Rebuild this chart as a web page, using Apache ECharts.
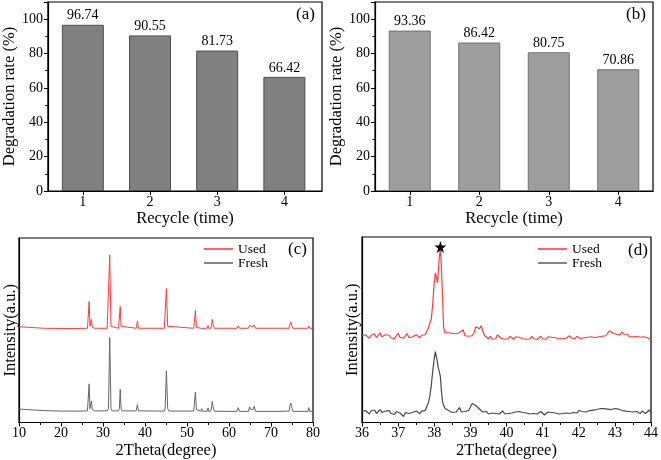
<!DOCTYPE html>
<html><head><meta charset="utf-8">
<script src="https://cdn.jsdelivr.net/npm/echarts@6/dist/echarts.min.js"></script>
<style>html,body{margin:0;padding:0;background:#fff}#c{width:661px;height:460px}</style>
</head><body><div id="c"></div>
<script>
const cycles = [1, 2, 3, 4];
const rateA = [96.74, 90.55, 81.73, 66.42];
const rateB = [93.36, 86.42, 80.75, 70.86];

const cTheta = [
  10, 12, 14, 16, 20, 24, 26.3, 26.5, 26.7, 26.9,
  27.1, 27.25, 27.45, 28, 31.0, 31.3, 31.6, 31.9, 32.2, 33.7,
  33.9, 34.1, 34.3, 34.6, 37.9, 38.2, 38.45, 39.2, 39.35, 39.5,
  44.6, 44.8, 45.1, 45.4, 45.7, 51.6, 51.8, 52.0, 52.25, 52.5,
  53.3, 53.5, 53.7, 54.8, 55.0, 55.2, 55.7, 55.9, 56.0, 56.2,
  56.5, 57.8, 58.0, 58.2, 61.9, 62.2, 62.5, 64.6, 64.9, 65.2,
  65.5, 65.7, 66.0, 66.3, 71.4, 71.6, 71.8, 74.3, 74.5, 74.7,
  74.9, 75.2, 78.8, 79.0, 79.2, 80
];
const cUsed = [
  96.5, 96, 95.5, 95, 94.8, 94.8, 95, 96, 122, 97,
  98, 104, 96, 95, 95, 97, 169, 97, 95, 95,
  97, 117, 97, 95, 95, 102, 95, 95, 96.5, 95,
  95, 97, 135, 97, 95, 95, 97, 113, 96, 95,
  95, 97, 95, 95, 98, 95, 95, 100, 104, 99,
  95, 95, 96, 95, 95, 97.3, 95, 95, 98, 96,
  96.5, 96, 98.3, 95, 95, 96, 95, 95, 99, 101.3,
  98, 95, 95, 97.3, 95, 95
];
const cFresh = [
  13.5, 13, 12.5, 12, 11.5, 11.5, 11.7, 13, 39, 14,
  15, 21.7, 13, 11.7, 11.7, 14, 85.7, 14, 11.7, 11.7,
  14, 33.7, 14, 11.7, 11.7, 18, 11.7, 11.7, 13, 11.5,
  11.5, 14, 52, 14, 11.5, 11.5, 13.5, 30.7, 13, 11.3,
  11.3, 14, 11.3, 11.3, 14.7, 11.3, 11.5, 17, 21.3, 16,
  11.3, 11.3, 13, 11.2, 11.2, 15, 11.2, 11.2, 15.7, 13,
  13.5, 13, 16.3, 11.2, 11.2, 13, 11.2, 11.5, 17, 19.7,
  16, 11.3, 11.2, 15, 11.2, 11.2
];

const dTheta = [
  36.00,36.05,36.10,36.15,36.20,36.25,36.30,36.35,36.40,36.45,
  36.50,36.55,36.60,36.65,36.70,36.75,36.80,36.85,36.90,36.95,
  37.00,37.05,37.10,37.15,37.20,37.25,37.30,37.35,37.40,37.45,
  37.50,37.55,37.60,37.65,37.70,37.75,37.80,
  37.84,37.88,37.92,37.96,38.00,38.03,38.06,38.09,38.11,38.14,
  38.17,38.20,38.23,38.26,38.30,
  38.35,38.40,38.45,38.50,38.55,38.60,38.65,38.70,38.75,38.80,
  38.85,38.90,38.95,39.00,39.05,39.10,39.15,39.20,39.25,39.30,
  39.35,39.40,39.45,39.50,39.55,39.60,39.65,39.70,39.75,39.80,
  39.85,39.90,39.95,40.00,40.05,40.10,40.15,40.20,40.25,40.30,
  40.35,40.40,40.45,40.50,40.55,40.60,40.65,40.70,40.75,40.80,
  40.85,40.90,40.95,41.00,41.05,41.10,41.15,41.20,41.25,41.30,
  41.35,41.40,41.45,41.50,41.55,41.60,41.65,41.70,41.75,41.80,
  41.85,41.90,41.95,42.00,42.05,42.10,42.15,42.20,42.25,42.30,
  42.35,42.40,42.45,42.50,42.55,42.60,42.65,42.70,42.75,42.80,
  42.85,42.90,42.95,43.00,43.05,43.10,43.15,43.20,43.25,43.30,
  43.35,43.40,43.45,43.50,43.55,43.60,43.65,43.70,43.75,43.80,
  43.85,43.90,43.95,44.00
];
const dUsed = [
  87,85,88,86,84.5,87.5,86,89,85,87,
  90,86,84.5,88,86,87.5,85,86.5,84,87,
  89.5,85.5,87,84.5,86,89,85,87,86,84.5,
  88,86,85,87.5,86,88,89,
  95,100,104,120,140,150,146,140,150,166,
  174,155,125,95,90,
  89,90,88,89.5,87.5,89,87,90,88,93,
  87,88.5,86.5,88,87,90,96,98,94,97,
  91,87,85.5,84,86.5,83.5,85,84,88,86,
  84.5,86,83.5,85,84,86.5,84.5,83.5,86,84,
  85.5,87,84,85.5,83.5,85,84,86.5,84,85.5,
  83.5,85,86.5,84,85,83.5,86,84.5,85.5,83.5,
  85,86.5,84,85.5,84,86,84.5,85,87,84.5,
  85.5,84,86.5,85,84,86,85,83.5,85.5,84.5,
  86,84,85,84.5,86,85,86.5,85.5,87,89,
  92,90,89.5,91,88.5,90,88,91,88.5,87,
  88.5,86,87.5,86,88,86.5,87.5,85.5,87,86,
  88,85,87,83
];
const dFresh = [
  11,9,12,10,8.5,11.5,10,12.5,9,11,
  13,10,8.5,11.5,10,12,9,10.5,8,11,
  12.5,9.5,11,6,10,12,9,11,10,8.5,
  11.5,10,9,11.5,10.5,12,14,
  20,27,38,52,64,71,72,60,55,51,
  46,31,21,17,14,
  13,12,11,10,12,10.5,9,15,10.5,9.5,
  11,10,12,14,19,21,17,16,13.5,12,
  10.5,9,11,8.5,10,9.5,11.5,9,10,8.5,
  10,11.5,8.5,10,9,11,9.5,8,10.5,9,
  11,9,10,8,9.5,11,8.5,10,9,10.5,
  8.5,10,11,9,7.5,9.5,10.5,8.5,10,9,
  9.5,11,8.5,10,9,11,9.5,10.5,9,11,
  10,11.5,9.5,12,10,11,12.5,10.5,11.5,12,
  11,12.5,11.5,13,12,14,15.5,14,15,13.5,
  14.5,13,15,14,12.5,13.5,11.5,12,10.5,11.5,
  10,11,9.5,10.5,9,11,10,9,11.5,10,
  9,11,12.5,10
];

const zip = (xs, ys) => xs.map((x, i) => [x, ys[i]]);
const FONT = "'Liberation Serif','Times New Roman',serif";
const RED = '#ff3b3b';
const NAME_FS = 16.5, TICK_FS = 14;

function barX(idx, gap, min, max) {
  return {
    type: 'value', gridIndex: idx, min: min, max: max,
    name: 'Recycle (time)', nameLocation: 'middle', nameGap: gap,
    nameTextStyle: {fontFamily: FONT, fontSize: NAME_FS, color: '#000'},
    axisLine: {lineStyle: {color: '#000', width: 1.2}},
    axisTick: {inside: false, length: 4, customValues: cycles, lineStyle: {color: '#000'}},
    splitLine: {show: false},
    axisLabel: {fontFamily: FONT, fontSize: TICK_FS, color: '#000', margin: 4, customValues: cycles}
  };
}
function barY(idx, gap) {
  return {
    type: 'value', gridIndex: idx, min: 0, max: 110, interval: 20,
    name: 'Degradation rate (%)', nameLocation: 'middle', nameGap: gap,
    nameTextStyle: {fontFamily: FONT, fontSize: NAME_FS, color: '#000'},
    axisLine: {show: true, lineStyle: {color: '#000', width: 1.2}},
    axisTick: {show: true, inside: false, length: 4, lineStyle: {color: '#000'}},
    minorTick: {show: true, splitNumber: 2, length: 2.5, lineStyle: {color: '#000'}},
    splitLine: {show: false},
    axisLabel: {fontFamily: FONT, fontSize: TICK_FS, color: '#000', margin: 5, showMaxLabel: false}
  };
}
function xrdX(idx, min, max, interval) {
  return {
    type: 'value', gridIndex: idx, min: min, max: max, interval: interval,
    name: '2Theta(degree)', nameLocation: 'middle', nameGap: 19.5,
    nameTextStyle: {fontFamily: FONT, fontSize: NAME_FS, color: '#000'},
    axisLine: {lineStyle: {color: '#000', width: 1.2}},
    axisTick: {inside: false, length: 4, lineStyle: {color: '#000'}},
    minorTick: {show: true, splitNumber: 2, length: 2.5, lineStyle: {color: '#000'}},
    splitLine: {show: false},
    axisLabel: {fontFamily: FONT, fontSize: TICK_FS, color: '#000', margin: 4}
  };
}
function xrdY(idx, gap) {
  return {
    type: 'value', gridIndex: idx, min: 0, max: 186,
    name: 'Intensity(a.u.)', nameLocation: 'middle', nameGap: gap,
    nameTextStyle: {fontFamily: FONT, fontSize: NAME_FS, color: '#000'},
    axisLine: {show: true, lineStyle: {color: '#000', width: 1.2}},
    axisTick: {show: false}, axisLabel: {show: false}, splitLine: {show: false}
  };
}
function barSeries(idx, data, fill, border) {
  return {
    type: 'bar', xAxisIndex: idx, yAxisIndex: idx, data: zip(cycles, data), barWidth: 42,
    itemStyle: {color: fill, borderColor: border, borderWidth: 1},
    label: {show: true, position: 'top', distance: 2, fontFamily: FONT, fontSize: 14, color: '#000',
      formatter: p => p.value[1].toFixed(2)}
  };
}
const lbl = (t, l, tp) => ({text: t, left: l, top: tp, padding: 0,
  textStyle: {fontFamily: FONT, fontSize: 17, fontWeight: 'normal', color: '#000'}});
const legendStyle = (l, t) => ({
  left: l, top: t, orient: 'vertical', icon: 'rect', itemWidth: 29, itemHeight: 1.6,
  itemGap: 0, padding: 0, data: ['Used', 'Fresh'],
  textStyle: {fontFamily: FONT, fontSize: 13.5, color: '#000', lineHeight: 14}
});
const star = 'path://M50,0 L61,35 L98,35 L68,57 L79,91 L50,70 L21,91 L32,57 L2,35 L39,35 Z';

const chart = echarts.init(document.getElementById('c'));
chart.setOption({
  animation: false,
  backgroundColor: '#fff',
  title: [lbl('(a)', 296, 6), lbl('(b)', 626, 6), lbl('(c)', 288, 241), lbl('(d)', 628, 242)],
  legend: [legendStyle(204, 242), legendStyle(538, 242)],
  grid: [
    {left: 38, top: 2, width: 284, height: 189, show: true, borderColor: '#000', borderWidth: 1.2},
    {left: 375, top: 2, width: 278, height: 189, show: true, borderColor: '#000', borderWidth: 1.2},
    {left: 19, top: 238, width: 294, height: 186, show: true, borderColor: '#000', borderWidth: 1.2},
    {left: 362, top: 237, width: 289, height: 186, show: true, borderColor: '#000', borderWidth: 1.2}
  ],
  xAxis: [barX(0, 13, 0.48, 4.56), barX(1, 15, 0.5, 4.5), xrdX(2, 10, 80, 10), xrdX(3, 36, 44, 1)],
  yAxis: [barY(0, 17), barY(1, 17.5), xrdY(2, 0), xrdY(3, 1)],
  series: [
    barSeries(0, rateA, '#808080', '#4d4d4d'),
    barSeries(1, rateB, '#9e9e9e', '#707070'),
    {name: 'Used', type: 'line', xAxisIndex: 2, yAxisIndex: 2, data: zip(cTheta, cUsed),
      showSymbol: false, color: RED, lineStyle: {color: RED, width: 1}},
    {name: 'Fresh', type: 'line', xAxisIndex: 2, yAxisIndex: 2, data: zip(cTheta, cFresh),
      showSymbol: false, color: '#666', lineStyle: {color: '#666', width: 1}},
    {name: 'Used', type: 'line', xAxisIndex: 3, yAxisIndex: 3, data: zip(dTheta, dUsed),
      showSymbol: false, color: RED, lineStyle: {color: RED, width: 1.2},
      markPoint: {symbol: star, symbolSize: 12, symbolOffset: [0, -2],
        itemStyle: {color: '#000'}, label: {show: false}, data: [{type: 'max'}]}},
    {name: 'Fresh', type: 'line', xAxisIndex: 3, yAxisIndex: 3, data: zip(dTheta, dFresh),
      showSymbol: false, color: '#4a4a4a', lineStyle: {color: '#4a4a4a', width: 1.2}}
  ]
});
</script></body></html>
